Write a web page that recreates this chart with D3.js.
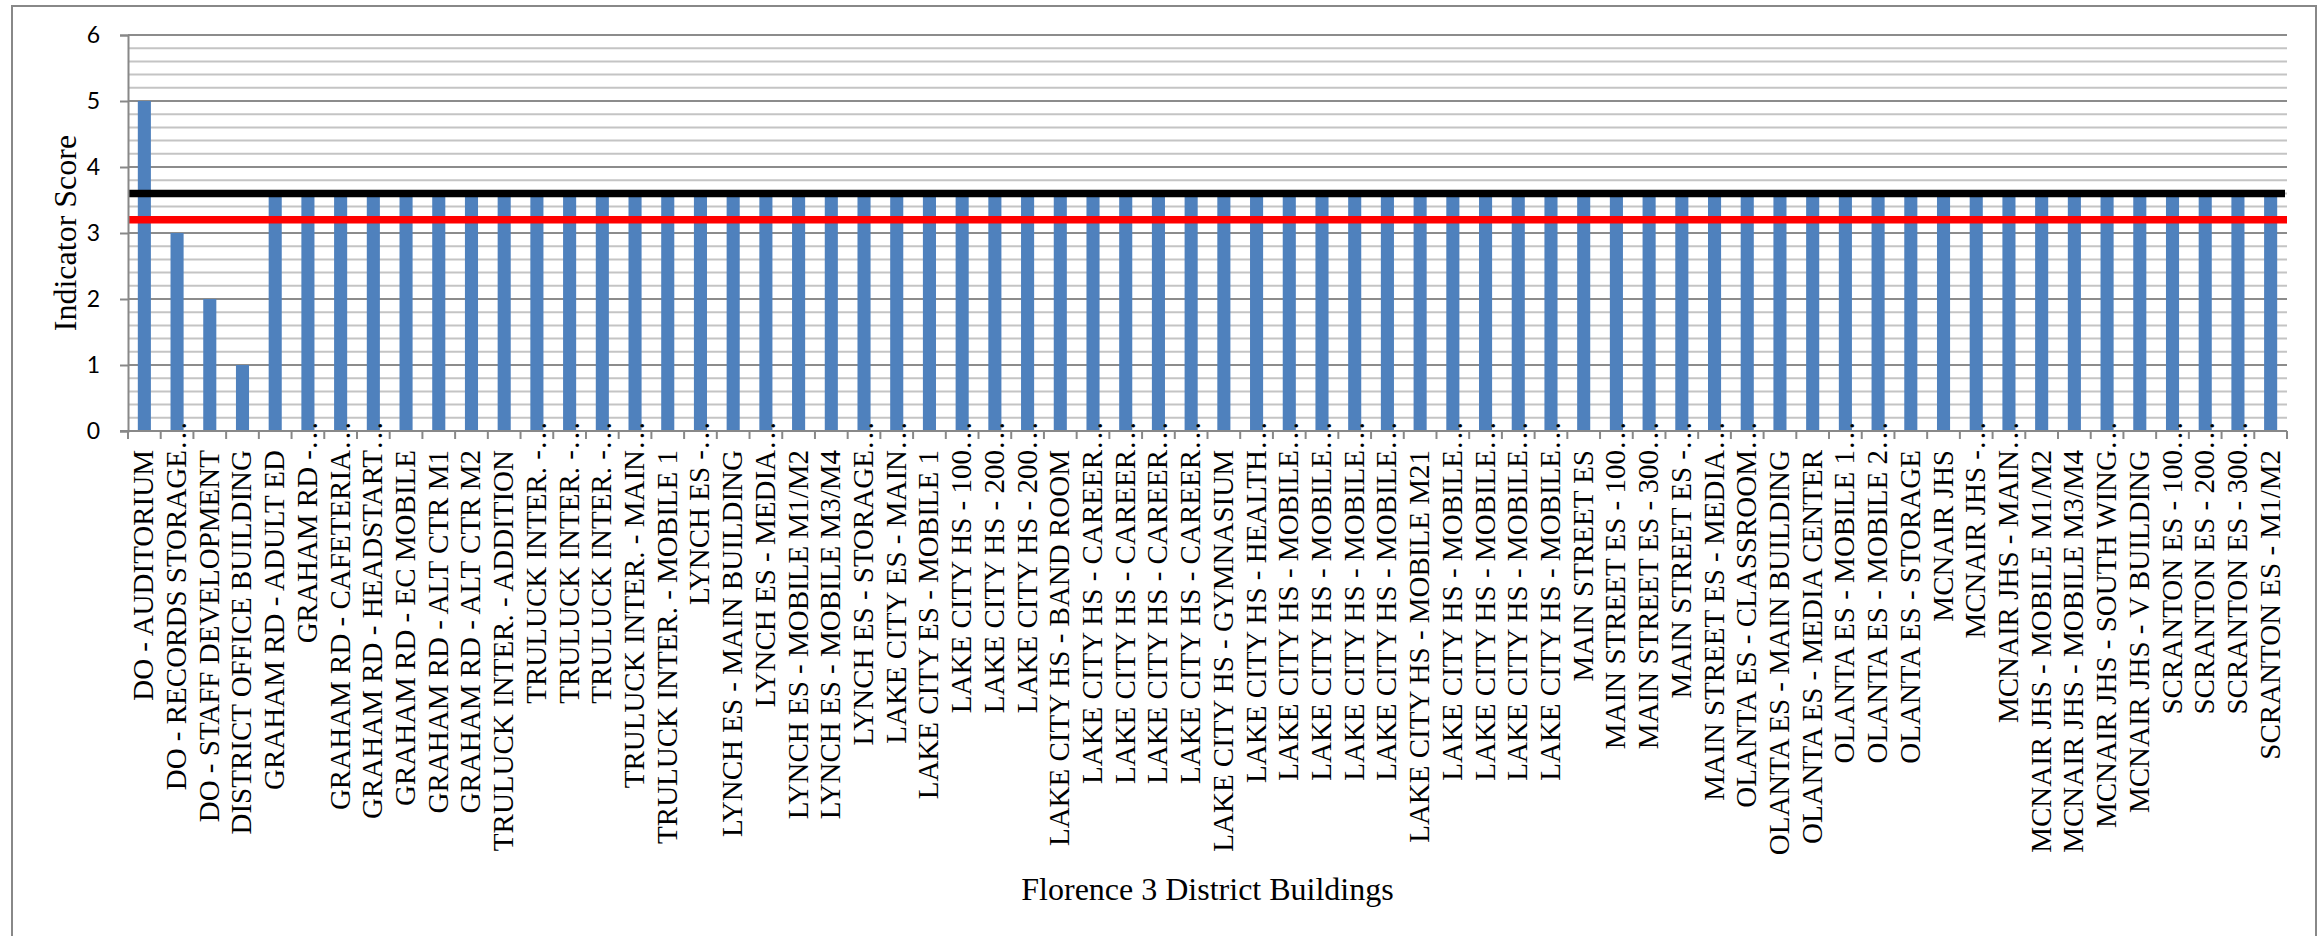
<!DOCTYPE html>
<html>
<head>
<meta charset="utf-8">
<script src="https://cdn.jsdelivr.net/npm/d3@7"></script>
<style>
  body { margin: 0; background: #fff; }
  svg { display: block; }
</style>
</head>
<body>
<div id="chart"></div>
<script>
// Data ////////////////////////////////////////
var buildings = [
  "DO - AUDITORIUM", "DO - RECORDS STORAGE…", "DO - STAFF DEVELOPMENT", "DISTRICT OFFICE BUILDING",
  "GRAHAM RD - ADULT ED", "GRAHAM RD -…", "GRAHAM RD - CAFETERIA…", "GRAHAM RD - HEADSTART…",
  "GRAHAM RD - EC MOBILE", "GRAHAM RD - ALT CTR M1", "GRAHAM RD - ALT CTR M2",
  "TRULUCK INTER. - ADDITION", "TRULUCK INTER. -…", "TRULUCK INTER. -…", "TRULUCK INTER. -…",
  "TRULUCK INTER. - MAIN…", "TRULUCK INTER. - MOBILE 1",
  "LYNCH ES -…", "LYNCH ES - MAIN BUILDING", "LYNCH ES - MEDIA…", "LYNCH ES - MOBILE M1/M2",
  "LYNCH ES - MOBILE M3/M4", "LYNCH ES - STORAGE…",
  "LAKE CITY ES - MAIN…", "LAKE CITY ES - MOBILE 1",
  "LAKE CITY HS - 100…", "LAKE CITY HS - 200…", "LAKE CITY HS - 200…", "LAKE CITY HS - BAND ROOM",
  "LAKE CITY HS - CAREER…", "LAKE CITY HS - CAREER…", "LAKE CITY HS - CAREER…", "LAKE CITY HS - CAREER…",
  "LAKE CITY HS - GYMNASIUM", "LAKE CITY HS - HEALTH…",
  "LAKE CITY HS - MOBILE…", "LAKE CITY HS - MOBILE…", "LAKE CITY HS - MOBILE…", "LAKE CITY HS - MOBILE…",
  "LAKE CITY HS - MOBILE M21",
  "LAKE CITY HS - MOBILE…", "LAKE CITY HS - MOBILE…", "LAKE CITY HS - MOBILE…", "LAKE CITY HS - MOBILE…",
  "MAIN STREET ES", "MAIN STREET ES - 100…", "MAIN STREET ES - 300…", "MAIN STREET ES -…",
  "MAIN STREET ES - MEDIA…",
  "OLANTA ES - CLASSROOM…", "OLANTA ES - MAIN BUILDING", "OLANTA ES - MEDIA CENTER",
  "OLANTA ES - MOBILE 1…", "OLANTA ES - MOBILE 2…", "OLANTA ES - STORAGE",
  "MCNAIR JHS", "MCNAIR JHS -…", "MCNAIR JHS - MAIN…", "MCNAIR JHS - MOBILE M1/M2",
  "MCNAIR JHS - MOBILE M3/M4", "MCNAIR JHS - SOUTH WING…", "MCNAIR JHS - V BUILDING",
  "SCRANTON ES - 100…", "SCRANTON ES - 200…", "SCRANTON ES - 300…", "SCRANTON ES - M1/M2"
];

var scores = [
  5, 3, 2, 1,
  3.6, 3.6, 3.6, 3.6, 3.6, 3.6, 3.6,
  3.6, 3.6, 3.6, 3.6, 3.6, 3.6,
  3.6, 3.6, 3.6, 3.6, 3.6, 3.6,
  3.6, 3.6,
  3.6, 3.6, 3.6, 3.6,
  3.6, 3.6, 3.6, 3.6,
  3.6, 3.6,
  3.6, 3.6, 3.6, 3.6,
  3.6,
  3.6, 3.6, 3.6, 3.6,
  3.6, 3.6, 3.6, 3.6, 3.6,
  3.6, 3.6, 3.6, 3.6, 3.6, 3.6,
  3.6, 3.6, 3.6, 3.6, 3.6, 3.6, 3.6,
  3.6, 3.6, 3.6, 3.6
];

var yTicks = [0, 1, 2, 3, 4, 5, 6];
var blackLine = 3.6;   // district average
var redLine = 3.2;     // target
var xTitle = "Florence 3 District Buildings";
var yTitle = "Indicator Score";

var data = buildings.map(function(b, i) { return { key: i, name: b, score: scores[i] }; });

// Chart config ////////////////////////////////
var W = 2319, H = 936;
var plot = { left: 128, right: 2287, top: 35, bottom: 431 };

var svg = d3.select("#chart").append("svg")
  .attr("width", W)
  .attr("height", H);

// chart frame
svg.append("rect")
  .attr("x", 12).attr("y", 6)
  .attr("width", 2304).attr("height", 960)
  .style("fill", "#fff")
  .style("stroke", "#888")
  .style("stroke-width", 2);

var xScale = d3.scaleBand()
  .domain(data.map(function(d) { return d.key; }))
  .range([plot.left, plot.right])
  .paddingInner(0.6)
  .paddingOuter(0.3);

// same categories without padding, for the tick marks between bars
var xEdges = d3.scaleBand()
  .domain(data.map(function(d) { return d.key; }))
  .range([plot.left, plot.right])
  .padding(0);

var yScale = d3.scaleLinear().domain([0, 6]).range([plot.bottom, plot.top]);

// gridlines: minor every 0.2, major every 1
var minor = d3.range(0, 30).map(function(i) { return i / 5; }).filter(function(v) { return v % 1 !== 0; });
svg.append("g").selectAll("line").data(minor).enter().append("line")
  .attr("x1", plot.left).attr("x2", plot.right)
  .attr("y1", function(d) { return yScale(d); })
  .attr("y2", function(d) { return yScale(d); })
  .style("stroke", "#c4c4c4")
  .style("stroke-width", 2);

svg.append("g").selectAll("line").data(yTicks.slice(1)).enter().append("line")
  .attr("x1", plot.left).attr("x2", plot.right)
  .attr("y1", function(d) { return yScale(d); })
  .attr("y2", function(d) { return yScale(d); })
  .style("stroke", "#8c8c8c")
  .style("stroke-width", 2);

// bars
svg.append("g").selectAll("rect").data(data).enter().append("rect")
  .attr("x", function(d) { return xScale(d.key); })
  .attr("width", xScale.bandwidth())
  .attr("y", function(d) { return yScale(d.score); })
  .attr("height", function(d) { return yScale(0) - yScale(d.score); })
  .style("fill", "#4f81bd");

// reference lines
svg.append("line")
  .attr("x1", plot.left).attr("x2", plot.right - 2)
  .attr("y1", yScale(blackLine)).attr("y2", yScale(blackLine))
  .style("stroke", "#000")
  .style("stroke-width", 7.5);

svg.append("line")
  .attr("x1", plot.left).attr("x2", plot.right)
  .attr("y1", yScale(redLine)).attr("y2", yScale(redLine))
  .style("stroke", "#ff0000")
  .style("stroke-width", 7.5);

// y axis
var yAxis = d3.axisLeft(yScale).tickValues(yTicks).tickFormat(d3.format("d")).tickSize(8).tickPadding(20);
var yAxisEl = svg.append("g")
  .attr("transform", "translate(" + plot.left + ",0)")
  .call(yAxis);
yAxisEl.select(".domain").style("stroke", "#888").style("stroke-width", 2);
yAxisEl.selectAll(".tick line").style("stroke", "#888").style("stroke-width", 2);
yAxisEl.selectAll(".tick text")
  .style("font-family", "Lato, 'Liberation Sans', sans-serif")
  .style("font-size", "23px")
  .style("fill", "#000");

// x axis
svg.append("line")
  .attr("x1", plot.left - 8).attr("x2", plot.right)
  .attr("y1", plot.bottom).attr("y2", plot.bottom)
  .style("stroke", "#888")
  .style("stroke-width", 2);

var edges = data.map(function(d) { return xEdges(d.key); }).concat([plot.right]);
svg.append("g").selectAll("line").data(edges).enter().append("line")
  .attr("x1", function(d) { return d; }).attr("x2", function(d) { return d; })
  .attr("y1", plot.bottom).attr("y2", plot.bottom + 8)
  .style("stroke", "#888")
  .style("stroke-width", 2);

// category labels, rotated, ending at the axis; a cut label keeps its "…" above
var labels = svg.append("g")
  .style("font-family", "'Liberation Serif', 'Times New Roman', serif")
  .style("font-size", "29px")
  .style("fill", "#000");

data.forEach(function(d) {
  var cx = xScale(d.key) + xScale.bandwidth() / 2 + 9;
  var cut = d.name.slice(-1) === "…";
  var txt = cut ? d.name.slice(0, -1) : d.name;
  var g = labels.append("g")
    .attr("transform", "translate(" + cx + "," + (plot.bottom + 19) + ") rotate(-90)");
  g.append("text").attr("text-anchor", "end").text(txt);
  if (cut) g.append("text").attr("text-anchor", "start").text("…");
});

// axis titles
svg.append("text")
  .attr("x", (plot.left + plot.right) / 2)
  .attr("y", 900)
  .attr("text-anchor", "middle")
  .style("font-family", "'Liberation Serif', 'Times New Roman', serif")
  .style("font-size", "32px")
  .text(xTitle);

svg.append("text")
  .attr("transform", "translate(76," + (plot.top + plot.bottom) / 2 + ") rotate(-90)")
  .attr("text-anchor", "middle")
  .style("font-family", "'Liberation Serif', 'Times New Roman', serif")
  .style("font-size", "32px")
  .text(yTitle);
</script>
</body>
</html>
